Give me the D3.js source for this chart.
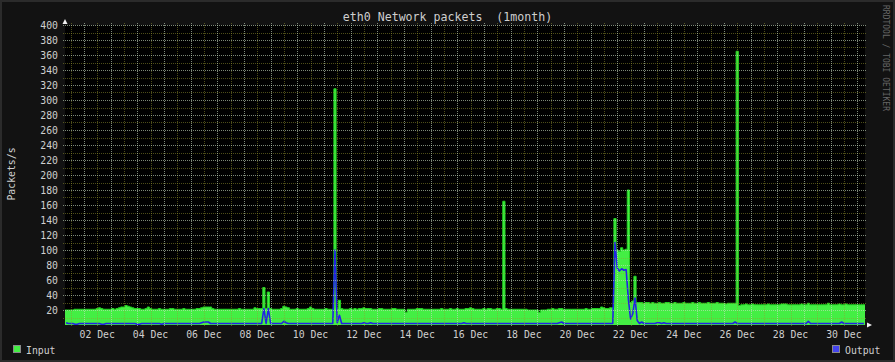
<!DOCTYPE html>
<html>
<head>
<meta charset="utf-8">
<script src="https://cdn.jsdelivr.net/npm/d3@7"></script>
<style>
  body { margin: 0; background: #121212; }
  text { font-family: "DejaVu Sans Mono", monospace; }
</style>
</head>
<body>
<script>
// ---------------------
// DATA (2 hour steps, one row per day starting 01 Dec 07:00)

var title = "eth0 Network packets  (1month)";
var yTitle = "Packets/s";
var watermark = "RRDTOOL / TOBI OETIKER";
var seriesNames = ["Input", "Output"];
var startTime = Date.UTC(2020, 11, 1, 7);
var stepHours = 2;
var spanDays = 30;
var yTicks = [20, 40, 60, 80, 100, 120, 140, 160, 180, 200, 220, 240, 260, 280, 300, 320, 340, 360, 380, 400];

var inputPkts = [
  20,20,20,20,21,21,21,21,21,21,21,21,
  21,21,22,23,22,21,21,21,21,22,21,22,
  23,24,24,26,25,24,23,22,22,22,21,21,
  22,24,22,21,21,21,22,21,21,21,21,22,
  22,21,21,21,21,22,21,21,21,21,21,22,
  22,23,24,24,24,24,22,21,21,21,21,21,
  21,21,21,21,21,21,22,21,21,21,21,21,
  21,23,22,22,22,50,22,44,22,21,21,21,
  21,22,25,24,23,21,21,21,22,21,21,21,
  21,22,24,22,21,21,21,21,21,22,21,21,
  21,315,22,33,22,21,21,21,22,21,22,21,
  22,22,23,22,22,22,21,21,21,22,22,21,
  21,21,21,22,22,21,21,21,21,17,21,21,
  21,21,22,22,22,21,21,21,21,21,21,21,
  21,22,21,21,21,22,21,21,22,21,21,21,
  22,22,23,22,21,21,21,21,22,21,22,22,
  21,21,22,22,21,165,22,21,21,21,21,21,
  21,21,21,21,20,20,20,20,20,17,20,20,
  20,21,21,22,21,21,22,22,21,21,21,21,
  21,21,21,21,21,21,22,21,21,22,22,22,
  22,24,23,22,22,23,23,142,100,98,103,100,
  101,180,30,32,65,30,30,30,29,30,30,29,
  30,29,29,30,29,29,30,30,29,29,30,29,
  29,29,30,29,29,29,30,29,29,30,29,29,
  29,30,29,29,29,30,29,29,29,28,29,29,
  29,29,365,26,27,27,28,27,27,28,27,27,
  27,27,27,27,28,27,27,27,27,27,28,28,
  28,27,27,27,27,27,27,28,27,27,29,27,
  27,27,27,27,27,27,27,29,27,27,27,27,
  28,27,27,28,27,27,27,27,27,27,27,27
];

var outputPkts = [
  3,2,2,2,1,1,2,2,2,2,2,2,
  2,2,2,2,1,1,2,2,2,2,2,2,
  2,2,2,2,2,2,2,2,1,1,2,2,
  2,2,2,2,2,2,2,1,2,2,2,2,
  2,2,2,2,2,2,2,2,2,2,2,2,
  2,3,4,4,4,2,2,2,2,2,2,2,
  2,2,2,2,2,2,2,2,2,2,2,2,
  2,2,2,2,2,22,2,22,2,2,2,2,
  2,2,5,3,2,2,2,2,2,2,2,2,
  2,2,2,2,2,2,2,2,2,2,2,2,
  2,100,3,13,2,2,2,2,2,2,2,2,
  2,2,3,2,2,3,2,2,2,2,2,2,
  2,2,2,2,2,2,2,2,2,2,2,2,
  2,2,2,2,2,2,2,2,2,2,2,2,
  2,2,2,2,2,2,2,2,2,2,2,3,
  2,2,2,2,2,2,2,2,2,2,2,2,
  2,2,2,2,2,2,2,2,2,2,2,2,
  2,2,2,2,2,2,2,2,2,2,2,2,
  2,2,2,2,2,2,3,4,2,2,2,2,
  2,2,2,2,2,2,2,2,2,2,2,2,
  2,2,2,2,2,2,2,110,76,72,75,73,
  74,35,8,15,36,6,2,4,2,2,2,2,
  2,2,3,3,2,3,2,2,2,2,2,2,
  2,2,2,2,2,2,2,2,2,2,2,2,
  2,2,2,2,2,2,2,2,2,2,2,2,
  2,4,2,2,2,2,2,2,2,2,2,2,
  2,2,2,2,2,2,2,2,2,2,2,2,
  2,2,2,2,2,2,2,2,2,2,5,2,
  2,2,2,2,2,2,2,2,2,2,2,2,
  2,4,2,2,2,2,2,2,2,2,2,2
];

// ---------------------
// SETUP

var W = 895, H = 362;
var margin = {top: 25, right: 30, bottom: 37, left: 65};
var width = W - margin.left - margin.right,
    height = H - margin.top - margin.bottom;
var step = stepHours * 36e5;
var t0 = new Date(startTime),
    t1 = new Date(startTime + spanDays * 864e5);

var x = d3.scaleUtc()
  .domain([t0, t1])
  .range([margin.left, margin.left + width]);
var y = d3.scaleLinear()
  .domain([0, 400])
  .range([margin.top + height, margin.top]);  // y reversed

var fmt = d3.utcFormat("%d %b");

var svg = d3.select("body")
  .append("svg")
    .attr("width", W)
    .attr("height", H);

// frame + canvas
svg.append("rect").attr("width", W).attr("height", H).attr("fill", "#2b2b2b");
svg.append("rect").attr("x", 2).attr("y", 2).attr("width", W - 4).attr("height", H - 4).attr("fill", "#121212");
svg.append("rect")
  .attr("x", x.range()[0]).attr("y", y.range()[1])
  .attr("width", width).attr("height", height)
  .attr("fill", "#000");

svg.append("clipPath").attr("id", "plotclip")
  .append("rect")
    .attr("x", x.range()[0]).attr("y", y.range()[1])
    .attr("width", width).attr("height", height);

// ---------------------
// DATA MARKS

var inPts = inputPkts.map(function(v, i) { return {t: new Date(startTime + i * step), v: v}; });
inPts.push({t: new Date(startTime + inputPkts.length * step), v: inputPkts[inputPkts.length - 1]});
var outPts = outputPkts.map(function(v, i) { return {t: new Date(startTime + (i + 0.5) * step), v: v}; });

var plot = svg.append("g").attr("clip-path", "url(#plotclip)");

plot.append("path")
  .datum(inPts)
  .attr("fill", "#44ee44")
  .attr("d", d3.area()
    .curve(d3.curveStepAfter)
    .x(function(d) { return x(d.t); })
    .y0(y(0))
    .y1(function(d) { return y(d.v); }));

plot.append("path")
  .datum(inPts)
  .attr("fill", "none")
  .attr("stroke", "#22d022")
  .attr("stroke-width", 1)
  .attr("d", d3.line()
    .curve(d3.curveStepAfter)
    .x(function(d) { return x(d.t); })
    .y(function(d) { return y(d.v); }));

plot.append("path")
  .datum(outPts)
  .attr("fill", "none")
  .attr("stroke", "#2222e6")
  .attr("stroke-width", 1.6)
  .attr("stroke-linejoin", "round")
  .attr("d", d3.line()
    .x(function(d) { return x(d.t); })
    .y(function(d) { return y(d.v); }));

// ---------------------
// GRID (drawn on top, like rrdtool)

var grid = svg.append("g").attr("shape-rendering", "crispEdges");

var minorX = d3.utcHour.every(12).range(t0, t1).filter(function(d) { return d.getUTCHours() === 12; });
var majorX = d3.utcDay.range(t0, t1);
var minorY = d3.range(10, 400, 20);

function vgrid(data, color, op) {
  grid.selectAll(null)
    .data(data)
    .enter().append("line")
      .attr("x1", function(d) { return Math.round(x(d)) + 0.5; })
      .attr("x2", function(d) { return Math.round(x(d)) + 0.5; })
      .attr("y1", y.range()[1] - 2)
      .attr("y2", y.range()[0] + 2)
      .attr("stroke", color)
      .attr("stroke-opacity", op)
      .attr("stroke-dasharray", "1 1");
}
function hgrid(data, color, op) {
  grid.selectAll(null)
    .data(data)
    .enter().append("line")
      .attr("x1", x.range()[0] - 2)
      .attr("x2", x.range()[1] + 2)
      .attr("y1", function(d) { return Math.round(y(d)) + 0.5; })
      .attr("y2", function(d) { return Math.round(y(d)) + 0.5; })
      .attr("stroke", color)
      .attr("stroke-opacity", op)
      .attr("stroke-dasharray", "1 1");
}

vgrid(minorX, "#9a9a30", 0.5);
hgrid(minorY, "#9a9a30", 0.5);
vgrid(majorX, "#c8dcc0", 0.62);
hgrid(yTicks, "#c8dcc0", 0.62);

// axis arrows
var ax0 = x.range()[0], ay0 = y.range()[0], axTop = y.range()[1], axRight = x.range()[1];
svg.append("path")
  .attr("d", "M" + (ax0 - 2.5) + "," + (axTop - 1) + "L" + ax0 + "," + (axTop - 6) + "L" + (ax0 + 2.5) + "," + (axTop - 1) + "Z")
  .attr("fill", "#f0f0f0");
svg.append("path")
  .attr("d", "M" + (axRight + 2) + "," + (ay0 - 2.5) + "L" + (axRight + 7) + "," + ay0 + "L" + (axRight + 2) + "," + (ay0 + 2.5) + "Z")
  .attr("fill", "#f0f0f0");

// ---------------------
// LABELS

svg.append("g")
  .selectAll("text")
  .data(yTicks)
  .enter().append("text")
    .attr("x", ax0 - 7)
    .attr("y", function(d) { return y(d); })
    .attr("dy", "0.36em")
    .attr("text-anchor", "end")
    .attr("font-size", "9.8px")
    .attr("fill", "#cfcfcf")
    .text(function(d) { return d; });

var labelDays = majorX.filter(function(d) { return d.getUTCDate() % 2 === 0; });
svg.append("g")
  .selectAll("text")
  .data(labelDays)
  .enter().append("text")
    .attr("x", function(d) { return x(d3.utcHour.offset(d, 12)); })
    .attr("y", ay0 + 13)
    .attr("text-anchor", "middle")
    .attr("font-size", "9.8px")
    .attr("fill", "#cfcfcf")
    .text(function(d) { return fmt(d); });

svg.append("text")
  .attr("x", W / 2)
  .attr("y", 21)
  .attr("text-anchor", "middle")
  .attr("font-size", "11.6px")
  .attr("fill", "#cfcfcf")
  .style("white-space", "pre")
  .attr("xml:space", "preserve")
  .text(title);

svg.append("text")
  .attr("transform", "translate(15," + (margin.top + height / 2 - 1) + ") rotate(-90)")
  .attr("text-anchor", "middle")
  .attr("font-size", "9.8px")
  .attr("fill", "#cfcfcf")
  .text(yTitle);

svg.append("text")
  .attr("transform", "translate(883,5) rotate(90)")
  .attr("font-size", "8px")
  .attr("fill", "#666")
  .text(watermark);

// legend
var legend = [
  {name: seriesNames[0], color: "#44ee44", x: 13, anchor: "start"},
  {name: seriesNames[1], color: "#4444ee", x: 832, anchor: "start"}
];
var lg = svg.append("g")
  .selectAll("g")
  .data(legend)
  .enter().append("g");
lg.append("rect")
  .attr("x", function(d) { return d.x + 0.5; })
  .attr("y", 345.5)
  .attr("width", 7)
  .attr("height", 7)
  .attr("fill", function(d) { return d.color; })
  .attr("stroke", "#8a8a8a")
  .attr("stroke-width", 1);
lg.append("text")
  .attr("x", function(d) { return d.x + 13; })
  .attr("y", 353.5)
  .attr("font-size", "9.8px")
  .attr("fill", "#cfcfcf")
  .text(function(d) { return d.name; });
</script>
</body>
</html>
